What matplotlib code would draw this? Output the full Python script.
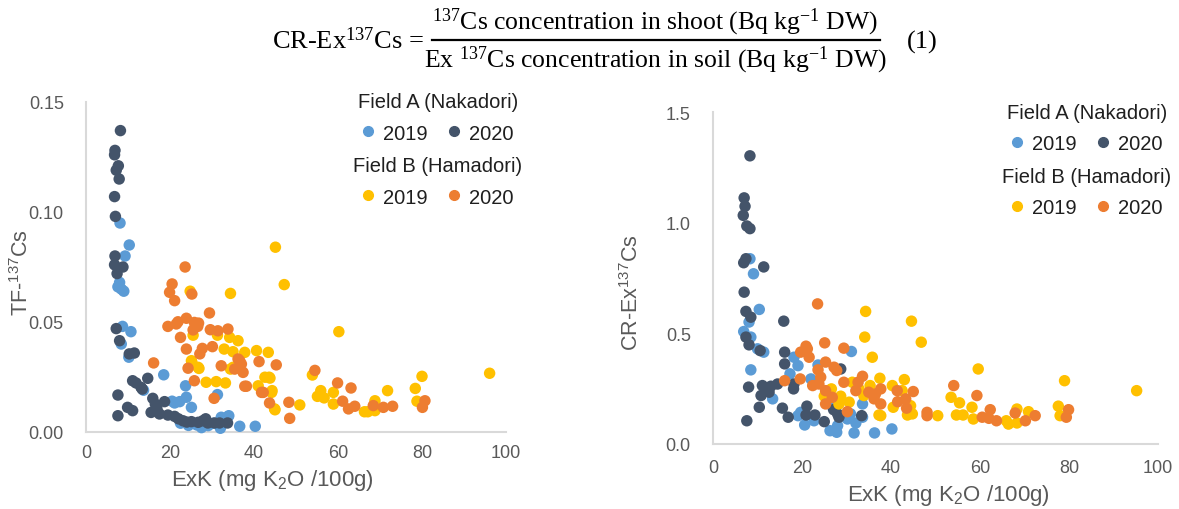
import matplotlib
matplotlib.use('Agg')
import matplotlib.pyplot as plt
from matplotlib.lines import Line2D

plt.rcParams['font.family'] = ['Liberation Sans', 'DejaVu Sans']
plt.rcParams['mathtext.default'] = 'regular'

# colours of the four site/year groups
c_a19 = '#5B9BD5'
c_a20 = '#44546A'
c_b19 = '#FFC000'
c_b20 = '#ED7D31'

# ---- TF-137Cs vs ExK ----
tf_a19_x = [8.1, 10.3, 9.3, 7.6, 8.4, 9.0, 8.7, 10.7, 8.4, 10.2, 18.5, 13.7, 23.7, 20.5, 22.3, 21.1,
            23.9, 25.1, 31.3, 34.0, 32.2, 36.6, 40.3, 32.0, 27.5, 29.1, 22.5, 24.4, 26.4, 30.4, 33.8, 8.0]
tf_a19_y = [0.095, 0.085, 0.080, 0.066, 0.065, 0.064, 0.048, 0.0456, 0.040, 0.034, 0.026, 0.019, 0.021,
            0.014, 0.0138, 0.0132, 0.0158, 0.0112, 0.017, 0.0074, 0.0067, 0.0026, 0.0026, 0.0017, 0.002,
            0.0029, 0.004, 0.003, 0.0032, 0.004, 0.007, 0.068]

tf_a20_x = [8.2, 6.9, 6.8, 7.7, 7.2, 7.9, 6.8, 7.0, 6.9, 6.8, 8.8, 7.4, 7.2, 8.0, 10.3, 11.5, 11.1, 13.1,
            14.7, 11.9, 7.6, 7.6, 9.9, 11.1, 15.9, 16.5, 16.9, 18.7, 15.5, 17.5, 19.5, 21.1, 23.1, 25.1,
            26.7, 27.8, 29.0, 30.6, 31.8, 33.7, 22.0, 28.5, 24.0, 13.4]
tf_a20_y = [0.137, 0.128, 0.126, 0.121, 0.119, 0.115, 0.107, 0.098, 0.080, 0.076, 0.075, 0.072, 0.047,
            0.0415, 0.0355, 0.0359, 0.0233, 0.0203, 0.0244, 0.0223, 0.0168, 0.0074, 0.0112, 0.0097,
            0.0153, 0.0127, 0.0105, 0.0138, 0.0089, 0.0082, 0.0077, 0.0071, 0.0051, 0.0047, 0.0044,
            0.0051, 0.0041, 0.0041, 0.0041, 0.0041, 0.006, 0.006, 0.0045, 0.0195]

tf_b19_x = [45.1, 47.2, 24.8, 34.4, 25.5, 31.3, 34.2, 36.2, 32.9, 35.0, 37.8, 40.6, 43.4, 25.1, 26.7,
            35.0, 28.6, 31.0, 33.2, 41.0, 43.6, 44.2, 44.9, 60.2, 53.9, 55.9, 55.1, 56.7, 58.9, 58.9,
            66.3, 67.1, 68.8, 68.8, 71.8, 78.4, 80.0, 78.8, 96.1, 50.9, 42.6, 43.8, 44.3, 34.4, 26.9,
            25.2, 45.0]
tf_b19_y = [0.084, 0.067, 0.064, 0.063, 0.044, 0.044, 0.043, 0.0415, 0.0377, 0.0365, 0.0362, 0.037,
            0.0362, 0.0324, 0.0294, 0.0294, 0.0226, 0.0229, 0.0223, 0.021, 0.0249, 0.018, 0.0105,
            0.0456, 0.0259, 0.0188, 0.0162, 0.0155, 0.018, 0.0127, 0.0092, 0.0092, 0.0142, 0.0097,
            0.0188, 0.0198, 0.0253, 0.014, 0.0267, 0.0123, 0.0249, 0.0245, 0.0188, 0.0286, 0.0289,
            0.0317, 0.0101]

tf_b20_x = [23.6, 20.5, 19.9, 25.2, 21.1, 29.4, 23.9, 21.9, 19.5, 25.8, 26.6, 25.5, 29.6, 33.8, 22.5,
            23.9, 27.1, 27.7, 30.1, 36.2, 37.0, 35.4, 37.4, 32.2, 41.2, 45.3, 24.3, 25.8, 37.8, 30.5,
            41.8, 43.7, 54.5, 59.9, 63.1, 61.1, 62.5, 64.0, 68.4, 70.8, 73.0, 80.7, 80.1, 48.3, 48.5,
            16.1, 31.4, 38.2, 42.2, 36.6, 21.5, 26.8]
tf_b20_y = [0.075, 0.0673, 0.0635, 0.0627, 0.0597, 0.0541, 0.0517, 0.0501, 0.048, 0.0498, 0.048,
            0.0464, 0.0465, 0.0468, 0.043, 0.0377, 0.0355, 0.038, 0.0388, 0.0332, 0.0309, 0.0286,
            0.0271, 0.0301, 0.032, 0.0305, 0.029, 0.0233, 0.0208, 0.0153, 0.018, 0.0132, 0.028,
            0.0223, 0.02, 0.014, 0.0105, 0.0117, 0.012, 0.0112, 0.0117, 0.0142, 0.0112, 0.0135,
            0.0062, 0.0314, 0.046, 0.0208, 0.018, 0.0324, 0.0491, 0.0495]

# ---- CR-Ex137Cs vs ExK ----
cr_a19_x = [8.3, 9.1, 10.4, 8.1, 6.9, 8.5, 11.4, 31.1, 18.2, 19.1, 8.5, 17.3, 23.6, 22.0, 13.4, 19.1,
            20.6, 26.3, 27.8, 30.9, 32.1, 31.7, 33.6, 33.6, 36.3, 40.2, 19.7, 22.7, 28.0, 26.1, 30.2,
            10.0]
cr_a19_y = [0.837, 0.769, 0.608, 0.551, 0.508, 0.483, 0.415, 0.418, 0.392, 0.354, 0.335, 0.317, 0.357,
            0.294, 0.204, 0.128, 0.086, 0.06, 0.053, 0.136, 0.095, 0.05, 0.121, 0.181, 0.05, 0.068,
            0.143, 0.105, 0.083, 0.181, 0.113, 0.43]

cr_a20_x = [8.3, 7.0, 7.2, 6.8, 7.6, 8.3, 6.9, 7.4, 11.4, 7.0, 7.4, 8.5, 15.9, 7.4, 8.1, 10.6, 16.1,
            16.1, 28.7, 8.0, 11.1, 13.0, 14.5, 12.6, 10.8, 18.1, 18.2, 10.4, 7.6, 15.6, 16.9, 21.1,
            20.9, 22.9, 25.0, 27.1, 28.0, 28.3, 33.4]
cr_a20_y = [1.302, 1.112, 1.074, 1.033, 0.985, 0.973, 0.819, 0.837, 0.8, 0.686, 0.599, 0.573, 0.555,
            0.483, 0.448, 0.422, 0.415, 0.362, 0.339, 0.257, 0.264, 0.261, 0.271, 0.234, 0.219, 0.249,
            0.271, 0.166, 0.105, 0.162, 0.121, 0.171, 0.131, 0.131, 0.101, 0.155, 0.136, 0.121, 0.128]

cr_b19_x = [34.3, 44.6, 46.8, 34.1, 35.8, 25.0, 26.6, 28.7, 30.6, 28.3, 31.3, 32.8, 33.9, 37.5, 35.3,
            40.3, 42.5, 43.0, 37.3, 40.5, 59.6, 79.0, 44.4, 44.8, 43.7, 37.7, 50.5, 53.5, 55.4, 54.7,
            56.2, 58.2, 58.5, 65.9, 66.4, 68.3, 68.3, 70.9, 77.6, 78.0, 95.2]
cr_b19_y = [0.599, 0.555, 0.46, 0.483, 0.392, 0.216, 0.249, 0.216, 0.189, 0.181, 0.279, 0.249, 0.219,
            0.297, 0.264, 0.264, 0.241, 0.291, 0.131, 0.166, 0.339, 0.286, 0.173, 0.136, 0.131, 0.128,
            0.128, 0.211, 0.186, 0.131, 0.131, 0.166, 0.113, 0.105, 0.09, 0.158, 0.095, 0.146, 0.171,
            0.128, 0.241]

cr_b20_x = [23.5, 25.1, 29.4, 20.9, 19.7, 21.6, 21.2, 25.3, 27.2, 23.6, 27.8, 24.2, 16.1, 19.6, 22.4,
            23.8, 30.2, 25.3, 26.8, 29.4, 32.1, 33.6, 36.5, 37.7, 37.7, 41.4, 43.3, 25.3, 32.6, 45.0,
            41.5, 43.5, 48.1, 48.1, 54.1, 59.3, 60.5, 62.3, 62.0, 63.7, 67.9, 70.2, 72.4, 79.9, 79.4,
            35.0, 36.2]
cr_b20_y = [0.633, 0.457, 0.433, 0.442, 0.415, 0.392, 0.43, 0.37, 0.347, 0.335, 0.332, 0.302, 0.286,
            0.294, 0.264, 0.271, 0.146, 0.181, 0.211, 0.279, 0.241, 0.306, 0.226, 0.249, 0.181, 0.241,
            0.204, 0.241, 0.279, 0.237, 0.191, 0.162, 0.143, 0.128, 0.264, 0.219, 0.121, 0.155, 0.116,
            0.105, 0.14, 0.105, 0.128, 0.155, 0.121, 0.234, 0.204]

grey = '#595959'
spine_c = '#D9D9D9'
ms = 68

fig = plt.figure(figsize=(11.79, 5.10), dpi=100)
ax1 = fig.add_axes([86 / 1179, 1 - 433 / 510, 420 / 1179, 330 / 510])
ax2 = fig.add_axes([713 / 1179, 1 - 445 / 510, 445 / 1179, 332 / 510])


def style(ax, yticks, ylabels, ypad, xpad):
    for s in ['top', 'right']:
        ax.spines[s].set_visible(False)
    for s in ['left', 'bottom']:
        ax.spines[s].set_color(spine_c)
        ax.spines[s].set_linewidth(1.5)
    ax.set_xlim(0, 100)
    ax.set_xticks([0, 20, 40, 60, 80, 100])
    ax.set_yticks(yticks)
    ax.set_yticklabels(ylabels)
    ax.tick_params(axis='both', length=0, labelsize=13, labelcolor=grey)
    ax.tick_params(axis='y', pad=ypad)
    ax.tick_params(axis='x', pad=xpad)


def dots(ax, xs, ys, color):
    ax.scatter(xs, ys, s=ms, color=color, edgecolors='none', zorder=3, clip_on=False)


def legends(ax, anchor_a, anchor_b):
    h19a = Line2D([], [], marker='o', ls='none', color=c_a19, markersize=7)
    h20a = Line2D([], [], marker='o', ls='none', color=c_a20, markersize=7)
    h19b = Line2D([], [], marker='o', ls='none', color=c_b19, markersize=7)
    h20b = Line2D([], [], marker='o', ls='none', color=c_b20, markersize=7)
    kw = dict(ncol=2, frameon=False, fontsize=14.5, title_fontsize=14.5, loc='upper center',
              handlelength=0.6, handletextpad=0.45, columnspacing=1.0, borderpad=0,
              borderaxespad=0, labelspacing=0.3, bbox_transform=fig.transFigure)
    la = ax.legend([h19a, h20a], ['2019', '2020'], title='Field A (Nakadori)',
                   bbox_to_anchor=anchor_a, **kw)
    ax.add_artist(la)
    lb = ax.legend([h19b, h20b], ['2019', '2020'], title='Field B (Hamadori)',
                   bbox_to_anchor=anchor_b, **kw)
    for lg in (la, lb):
        lg.get_title().set_color('#1F1F1F')
        for t in lg.get_texts():
            t.set_color('#1F1F1F')
        lg._legend_box.sep = 9


# left panel
dots(ax1, tf_a19_x, tf_a19_y, c_a19)
dots(ax1, tf_a20_x, tf_a20_y, c_a20)
dots(ax1, tf_b19_x, tf_b19_y, c_b19)
dots(ax1, tf_b20_x, tf_b20_y, c_b20)
ax1.set_ylim(0, 0.15)
style(ax1, [0, 0.05, 0.10, 0.15], ['0.00', '0.05', '0.10', '0.15'], 16, 9)
ax1.set_ylabel('TF-$^{137}$Cs', fontsize=15.5, color=grey)
ax1.yaxis.set_label_coords(-0.125, 0.485)
ax1.set_xlabel('ExK (mg K$_{2}$O /100g)', fontsize=16, color=grey, va='center')
ax1.xaxis.set_label_coords(0.445, -0.145)
legends(ax1, (438 / 1179, 1 - 93 / 510), (438 / 1179, 1 - 157 / 510))

# right panel
dots(ax2, cr_a19_x, cr_a19_y, c_a19)
dots(ax2, cr_a20_x, cr_a20_y, c_a20)
dots(ax2, cr_b19_x, cr_b19_y, c_b19)
dots(ax2, cr_b20_x, cr_b20_y, c_b20)
ax2.set_ylim(0, 1.5)
style(ax2, [0, 0.5, 1.0, 1.5], ['0.0', '0.5', '1.0', '1.5'], 16, 11)
ax2.set_ylabel('CR-Ex$^{137}$Cs', fontsize=15.5, color=grey)
ax2.yaxis.set_label_coords(-0.158, 0.46)
ax2.set_xlabel('ExK (mg K$_{2}$O /100g)', fontsize=16, color=grey, va='center')
ax2.xaxis.set_label_coords(0.53, -0.152)
legends(ax2, (1087 / 1179, 1 - 104 / 510), (1087 / 1179, 1 - 168 / 510))

# equation (1) across the top
serif = ['Liberation Serif', 'DejaVu Serif']
fig.text(272 / 1179, 1 - 41 / 510, 'CR-Ex$^{137}$Cs =', family=serif, fontsize=19,
         ha='left', va='center', color='black')
fig.text(655 / 1179, 1 - 22 / 510, '$^{137}$Cs concentration in shoot (Bq kg$^{-1}$ DW)',
         family=serif, fontsize=18.5, ha='center', va='center', color='black')
fig.text(655 / 1179, 1 - 60 / 510, 'Ex $^{137}$Cs concentration in soil (Bq kg$^{-1}$ DW)',
         family=serif, fontsize=18.5, ha='center', va='center', color='black')
fig.add_artist(Line2D([432 / 1179, 880 / 1179], [1 - 41 / 510, 1 - 41 / 510],
                      color='black', lw=1.6, transform=fig.transFigure))
fig.text(922 / 1179, 1 - 42 / 510, '(1)', family=serif, fontsize=19,
         ha='center', va='center', color='black')

plt.savefig('out.png', dpi=100)
